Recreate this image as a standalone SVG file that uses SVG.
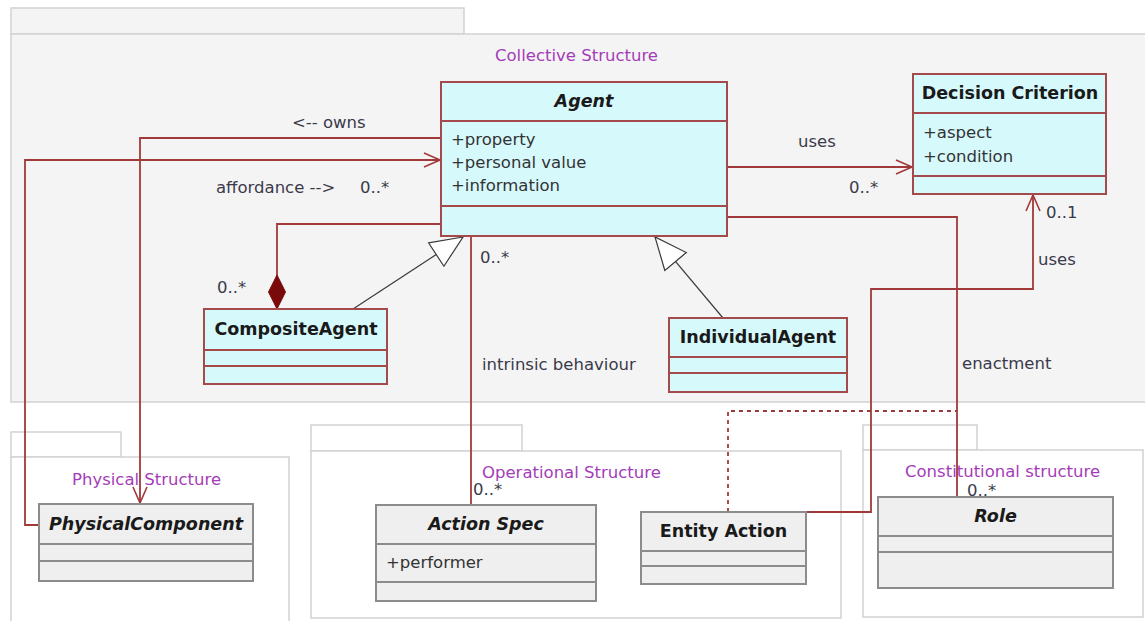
<svg xmlns="http://www.w3.org/2000/svg" width="1145" height="621" viewBox="0 0 1145 621">
<defs>
<style>
.pkg{fill:#f4f4f4;stroke:#d2d2d2;stroke-width:1.5}
.pkgw{fill:#ffffff;stroke:#d2d2d2;stroke-width:1.5}
.pname{font-family:"DejaVu Sans",sans-serif;font-size:16.5px;fill:#a43cb8}
.cls{fill:#d6f9fc;stroke:#a54a4a;stroke-width:2}
.csep{stroke:#a54a4a;stroke-width:2}
.gcls{fill:#efefef;stroke:#8c8c8c;stroke-width:2}
.gsep{stroke:#8c8c8c;stroke-width:2}
.title{font-family:"DejaVu Sans",sans-serif;font-size:17.5px;font-weight:bold;fill:#1a1a1a;text-anchor:middle}
.ital{font-style:italic}
.attr{font-family:"DejaVu Sans",sans-serif;font-size:16.5px;fill:#333333}
.lbl{font-family:"DejaVu Sans",sans-serif;font-size:16.5px;fill:#3a3a4a}
.conn{fill:none;stroke:#a03a3a;stroke-width:1.8}
.gen{fill:none;stroke:#3a3a3a;stroke-width:1.2}
.dash{fill:none;stroke:#a03a3a;stroke-width:1.8;stroke-dasharray:4,4}
</style>
<marker id="open" markerUnits="userSpaceOnUse" markerWidth="20" markerHeight="18" refX="17" refY="8" orient="auto">
<path d="M1,1 L17,8 L1,15" fill="none" stroke="#a03a3a" stroke-width="1.6"/>
</marker>
<marker id="tri" markerUnits="userSpaceOnUse" markerWidth="36" markerHeight="32" refX="33" refY="15" orient="auto">
<path d="M1,1 L33,15 L1,29 Z" fill="#ffffff" stroke="#3a3a3a" stroke-width="1.2"/>
</marker>
<marker id="dia" markerUnits="userSpaceOnUse" markerWidth="36" markerHeight="20" refX="35" refY="9.5" orient="auto">
<path d="M1,9.5 L18,1 L35,9.5 L18,18 Z" fill="#7a0a0a" stroke="#7a0a0a" stroke-width="1"/>
</marker>
</defs>
<rect x="0" y="0" width="1145" height="621" fill="#ffffff"/>

<g id="pkg-collective">
<rect class="pkg" x="11" y="8" width="453" height="26"/>
<rect class="pkg" x="11" y="34" width="1140" height="368"/>
<text class="pname" x="495" y="61">Collective Structure</text>
</g>
<g id="pkg-physical">
<rect class="pkgw" x="11" y="432" width="110" height="25"/>
<rect class="pkgw" x="11" y="457" width="278" height="170"/>
<text class="pname" x="72" y="485">Physical Structure</text>
</g>
<g id="pkg-operational">
<rect class="pkgw" x="311" y="425" width="211" height="26"/>
<rect class="pkgw" x="311" y="451" width="530" height="167"/>
<text class="pname" x="482" y="478">Operational Structure</text>
</g>
<g id="pkg-constitutional">
<rect class="pkgw" x="863" y="425" width="114" height="25"/>
<rect class="pkgw" x="863" y="450" width="280" height="167"/>
<text class="pname" x="905" y="477">Constitutional structure</text>
</g>

<g id="connectors">
<path class="conn" d="M441,138 H140 V503" marker-end="url(#open)"/>
<path class="conn" d="M39,525 H25 V160 H440" marker-end="url(#open)"/>
<path class="conn" d="M727,167 H912" marker-end="url(#open)"/>
<path class="conn" d="M727,217 H957 V497"/>
<path class="conn" d="M471,236 V505"/>
<path class="conn" d="M441,224 H277 V309" marker-end="url(#dia)"/>
<path class="conn" d="M806,512 H871 V289 H1033 V195" marker-end="url(#open)"/>
<path class="dash" d="M728,512 V411 H957"/>
<path class="gen" d="M353,309 L463,237" marker-end="url(#tri)"/>
<path class="gen" d="M723,318 L655,237" marker-end="url(#tri)"/>
<text class="lbl" x="292" y="128">&lt;-- owns</text>
<text class="lbl" x="216" y="193">affordance --&gt;</text>
<text class="lbl" x="360" y="193">0..*</text>
<text class="lbl" x="798" y="147">uses</text>
<text class="lbl" x="849" y="193">0..*</text>
<text class="lbl" x="1046" y="218">0..1</text>
<text class="lbl" x="1038" y="265">uses</text>
<text class="lbl" x="962" y="369">enactment</text>
<text class="lbl" x="967" y="496">0..*</text>
<text class="lbl" x="480" y="263">0..*</text>
<text class="lbl" x="473" y="495">0..*</text>
<text class="lbl" x="217" y="293">0..*</text>
<text class="lbl" x="482" y="370">intrinsic behaviour</text>
</g>

<g id="agent">
<rect class="cls" x="441" y="82" width="286" height="154"/>
<line class="csep" x1="441" y1="121" x2="727" y2="121"/>
<line class="csep" x1="441" y1="206" x2="727" y2="206"/>
<text class="title ital" x="584" y="107">Agent</text>
<text class="attr" x="451" y="145">+property</text>
<text class="attr" x="451" y="168">+personal value</text>
<text class="attr" x="451" y="191">+information</text>
</g>
<g id="decision-criterion">
<rect class="cls" x="913" y="74" width="193" height="120"/>
<line class="csep" x1="913" y1="113" x2="1106" y2="113"/>
<line class="csep" x1="913" y1="176" x2="1106" y2="176"/>
<text class="title" x="1010" y="99">Decision Criterion</text>
<text class="attr" x="923" y="138">+aspect</text>
<text class="attr" x="923" y="162">+condition</text>
</g>
<g id="composite-agent">
<rect class="cls" x="204" y="309" width="183" height="75"/>
<line class="csep" x1="204" y1="350" x2="387" y2="350"/>
<line class="csep" x1="204" y1="366" x2="387" y2="366"/>
<text class="title" x="296" y="335">CompositeAgent</text>
</g>
<g id="individual-agent">
<rect class="cls" x="669" y="318" width="178" height="74"/>
<line class="csep" x1="669" y1="357" x2="847" y2="357"/>
<line class="csep" x1="669" y1="373" x2="847" y2="373"/>
<text class="title" x="758" y="343">IndividualAgent</text>
</g>
<g id="physical-component">
<rect class="gcls" x="39" y="504" width="214" height="77"/>
<line class="gsep" x1="39" y1="544" x2="253" y2="544"/>
<line class="gsep" x1="39" y1="561" x2="253" y2="561"/>
<text class="title ital" x="146" y="530">PhysicalComponent</text>
</g>
<g id="action-spec">
<rect class="gcls" x="376" y="505" width="220" height="96"/>
<line class="gsep" x1="376" y1="544" x2="596" y2="544"/>
<line class="gsep" x1="376" y1="582" x2="596" y2="582"/>
<text class="title ital" x="486" y="530">Action Spec</text>
<text class="attr" x="386" y="568">+performer</text>
</g>
<g id="entity-action">
<rect class="gcls" x="641" y="512" width="165" height="72"/>
<line class="gsep" x1="641" y1="551" x2="806" y2="551"/>
<line class="gsep" x1="641" y1="566" x2="806" y2="566"/>
<text class="title" x="723.5" y="537">Entity Action</text>
</g>
<g id="role">
<rect class="gcls" x="878" y="497" width="235" height="91"/>
<line class="gsep" x1="878" y1="536" x2="1113" y2="536"/>
<line class="gsep" x1="878" y1="552" x2="1113" y2="552"/>
<text class="title ital" x="995.5" y="522">Role</text>
</g>
</svg>
